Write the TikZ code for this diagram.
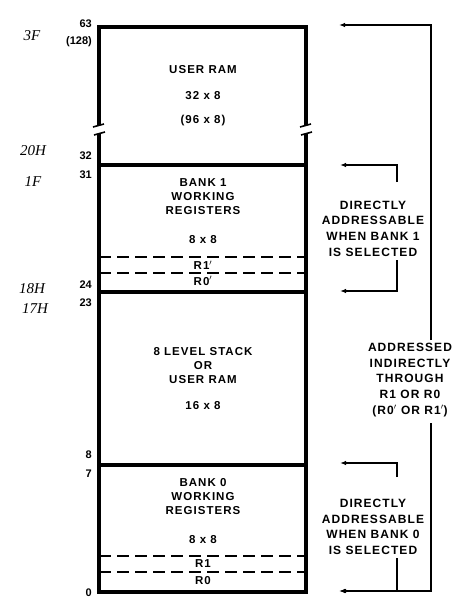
\documentclass[tikz,border=0pt]{standalone}
\usepackage{fontspec}
\setmainfont{Liberation Sans}
\newfontfamily\lblfont[LetterSpace=9]{Liberation Sans}
\newfontfamily\handfont{Liberation Serif}
\usetikzlibrary{arrows.meta, positioning}
\tikzset{
  wall/.style={line width=4.5pt, line join=miter},
  divider/.style={line width=3.5pt},
  regdash/.style={line width=2.8pt, dash pattern=on 12pt off 6pt},
  breaktick/.style={line width=1.6pt},
  areatext/.style={font=\lblfont\bfseries\fontsize{11.5}{14}\selectfont, align=center, inner sep=0pt},
  sidetext/.style={font=\lblfont\bfseries\fontsize{12}{15.7}\selectfont, align=center, inner sep=0pt},
  addrnum/.style={font=\bfseries\fontsize{11}{12}\selectfont, anchor=east, inner sep=0pt},
  hexnote/.style={font=\handfont\itshape\fontsize{15}{15}\selectfont, inner sep=0pt},
  bracket/.style={line width=1.3pt},
  pointer/.style={-{Latex[length=6pt, width=4.5pt]}, line width=1.3pt}
}

\begin{document}
\begin{tikzpicture}[x=1pt, y=-1pt]
\useasboundingbox (0,0) rectangle (457,598);

% memory block outline, broken on both sides
\draw[wall] (99,125) -- (99,27) -- (306,27) -- (306,125);
\draw[wall] (99,134) -- (99,592) -- (306,592) -- (306,134);
\draw[breaktick] (93,127) -- (104,124);
\draw[breaktick] (94,135) -- (105,132);
\draw[breaktick] (300,127) -- (311,124);
\draw[breaktick] (301,135) -- (312,132);

% area boundaries
\draw[divider] (99,165) -- (306,165);
\draw[divider] (99,292) -- (306,292);
\draw[divider] (99,465) -- (306,465);
\draw[regdash] (99,257) -- (306,257);
\draw[regdash] (99,273) -- (306,273);
\draw[regdash] (99,556) -- (306,556);
\draw[regdash] (99,572) -- (306,572);

% area texts
\node[areatext] (ram) at (203,70) {USER RAM};
\node[areatext] (ramsize) at (203,96) {32 x 8};
\node[areatext] (ramalt) at (203,121) {(96 x 8)};
\node[areatext] (bank1) at (203,197) {BANK 1\\WORKING\\REGISTERS};
\node[areatext] (bank1size) at (203,240) {8 x 8};
\node[areatext] (r1p) at (203,265) {R1$'$};
\node[areatext] (r0p) at (203,281) {R0$'$};
\node[areatext] (stack) at (203,366) {8 LEVEL STACK\\OR\\USER RAM};
\node[areatext] (stacksize) at (203,406) {16 x 8};
\node[areatext] (bank0) at (203,497) {BANK 0\\WORKING\\REGISTERS};
\node[areatext] (bank0size) at (203,540) {8 x 8};
\node[areatext] (r1) at (203,564) {R1};
\node[areatext] (r0) at (203,581) {R0};

% addresses
\node[addrnum] (a63) at (92,24) {63};
\node[addrnum] (a128) at (92,42) {(128)};
\node[addrnum] (a32) at (92,156) {32};
\node[addrnum] (a31) at (92,175) {31};
\node[addrnum] (a24) at (92,285) {24};
\node[addrnum] (a23) at (92,303) {23};
\node[addrnum] (a8) at (92,455) {8};
\node[addrnum] (a7) at (92,474) {7};
\node[addrnum] (a0) at (92,593) {0};

% hand written hex notes
\node[hexnote] (h3f) at (32,36) {3F};
\node[hexnote] (h20) at (33,151) {20H};
\node[hexnote] (h1f) at (33,182) {1F};
\node[hexnote] (h18) at (32,289) {18H};
\node[hexnote] (h17) at (35,309) {17H};

% right hand brackets
\coordinate (indtop) at (431,25);
\coordinate (indtoptip) at (339,25);
\coordinate (indup) at (431,340);
\coordinate (indlow) at (431,423);
\coordinate (indbot) at (431,591);
\coordinate (indbottip) at (339,591);
\node[sidetext] (indtext) at (410,380) {ADDRESSED\\INDIRECTLY\\THROUGH\\R1 OR R0\\(R0$'$ OR R1$'$)};
\draw[pointer] (indup) -- (indtop) -- (indtoptip);
\draw[pointer] (indlow) -- (indbot) -- (indbottip);

\coordinate (b1top) at (397,165);
\coordinate (b1toptip) at (340,165);
\coordinate (b1up) at (397,182);
\coordinate (b1low) at (397,260);
\coordinate (b1bot) at (397,291);
\coordinate (b1bottip) at (340,291);
\node[sidetext] (b1text) at (373,228.5) {DIRECTLY\\ADDRESSABLE\\WHEN BANK 1\\IS SELECTED};
\draw[pointer] (b1up) -- (b1top) -- (b1toptip);
\draw[pointer] (b1low) -- (b1bot) -- (b1bottip);

\coordinate (b0top) at (397,463);
\coordinate (b0toptip) at (340,463);
\coordinate (b0up) at (397,477);
\coordinate (b0low) at (397,558);
\coordinate (b0bot) at (397,591);
\coordinate (b0bottip) at (340,591);
\node[sidetext] (b0text) at (373,527) {DIRECTLY\\ADDRESSABLE\\WHEN BANK 0\\IS SELECTED};
\draw[pointer] (b0up) -- (b0top) -- (b0toptip);
\draw[pointer] (b0low) -- (b0bot) -- (b0bottip);
\end{tikzpicture}
\end{document}
